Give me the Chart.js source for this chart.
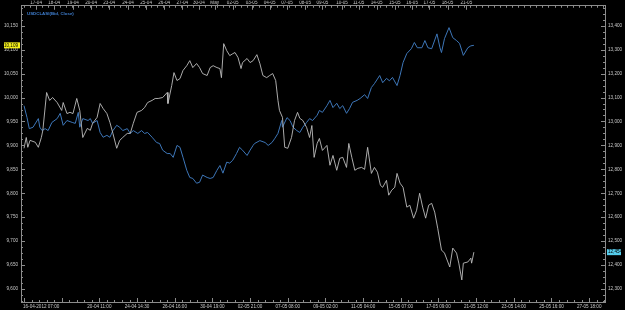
<!DOCTYPE html>
<html>
<head>
<meta charset="utf-8">
<script src="https://cdn.jsdelivr.net/npm/chart.js@4/dist/chart.umd.min.js"></script>
<style>
  html, body { margin: 0; padding: 0; background: #000; }
  canvas { display: block; }
</style>
</head>
<body>
<canvas id="chart" width="625" height="310"></canvas>
<script>
// bar index = hourly bar counted from 16-04-2012 07:00
const dayBars = [16, 40, 65, 89, 113, 138, 162, 186, 210, 232, 253, 277, 302, 326, 349, 373, 396, 422, 444, 468, 492, 515, 538, 562, 587];
const dayLabels = ["17-04", "18-04", "19-04", "20-04", "23-04", "24-04", "25-04", "26-04", "27-04", "30-04", "May",
    "02-05", "03-05", "04-05", "07-05", "08-05", "09-05", "10-05", "11-05", "14-05", "15-05", "16-05", "17-05", "18-05", "21-05"];
const timeBars = [0, 50, 100, 150, 200, 250, 300, 350, 400, 450, 500, 550, 600, 650, 700, 750];
const timeLabels = ["16-04-2012 07:00", "", "20-04 11:00", "24-04 14:30", "26-04 16:00", "30-04 19:00", "02-05 21:00",
    "07-05 08:00", "09-05 02:00", "11-05 04:00", "15-05 07:00", "17-05 09:00", "21-05 12:00", "23-05 14:00",
    "25-05 16:00", "27-05 18:00"];
const leftTicks = [9.60, 9.65, 9.70, 9.75, 9.80, 9.85, 9.90, 9.95, 10.00, 10.05, 10.10, 10.15];
const rightTicks = [12.3, 12.4, 12.5, 12.6, 12.7, 12.8, 12.9, 13.0, 13.1, 13.2, 13.3, 13.4];

const seriesName = "USDCLASI(Bid, Close)";

const blueBars = [0, 4, 7, 12, 19, 21, 24, 28, 32, 37, 44, 48, 52, 57, 64, 68, 72, 74, 78, 85, 88, 91, 97, 101, 105, 110,
    114, 118, 123, 127, 131, 137, 141, 145, 151, 156, 160, 164, 170, 176, 180, 184, 190, 194, 198, 203, 207, 211, 216, 220,
    224, 229, 233, 237, 243, 247, 251, 256, 260, 264, 269, 273, 277, 282, 286, 290, 296, 300, 304, 306, 313, 320, 324, 329,
    333, 337, 342, 343, 349, 353, 357, 362, 366, 370, 375, 379, 383, 389, 392, 396, 402, 406, 410, 415, 419, 423, 428, 432,
    436, 442, 446, 452, 456, 461, 465, 472, 476, 481, 485, 489, 495, 499, 503, 508, 514, 518, 522, 528, 532, 536, 541, 548,
    552, 554, 558, 564, 569, 574, 578, 583, 589, 593, 597];
const blueValues = [9.983, 9.958, 9.935, 9.938, 9.956, 9.938, 9.931, 9.935, 9.931, 9.948, 9.956, 9.967, 9.942, 9.952, 9.948,
    9.946, 9.969, 9.938, 9.956, 9.952, 9.956, 9.946, 9.952, 9.927, 9.917, 9.921, 9.917, 9.931, 9.942, 9.938, 9.931, 9.935,
    9.925, 9.931, 9.925, 9.931, 9.925, 9.927, 9.917, 9.906, 9.904, 9.890, 9.883, 9.883, 9.875, 9.900, 9.896, 9.875, 9.848,
    9.833, 9.831, 9.821, 9.823, 9.838, 9.833, 9.831, 9.833, 9.848, 9.858, 9.842, 9.865, 9.863, 9.869, 9.883, 9.896, 9.890,
    9.879, 9.890, 9.900, 9.904, 9.910, 9.906, 9.900, 9.906, 9.915, 9.925, 9.952, 9.938, 9.958, 9.952, 9.938, 9.931, 9.927,
    9.938, 9.948, 9.956, 9.952, 9.963, 9.973, 9.969, 9.983, 9.994, 9.979, 9.988, 9.977, 9.983, 9.967, 9.977, 9.990, 9.994,
    9.998, 10.006, 9.998, 10.021, 10.029, 10.046, 10.031, 10.040, 10.035, 10.042, 10.025, 10.046, 10.073, 10.092, 10.102,
    10.115, 10.104, 10.104, 10.119, 10.104, 10.102, 10.133, 10.104, 10.094, 10.123, 10.146, 10.125, 10.119, 10.113, 10.088,
    10.104, 10.108, 10.109];

const whiteBars = [0, 3, 5, 8, 15, 19, 23, 25, 30, 34, 38, 44, 50, 52, 57, 61, 65, 70, 74, 78, 84, 88, 91, 97, 101, 105, 110,
    114, 118, 123, 127, 131, 137, 141, 145, 150, 156, 160, 164, 170, 174, 178, 184, 190, 191, 196, 199, 203, 207, 211, 216,
    220, 224, 229, 233, 237, 243, 247, 251, 256, 260, 262, 265, 269, 273, 277, 280, 284, 288, 290, 296, 300, 304, 309, 313,
    317, 322, 326, 330, 334, 337, 339, 343, 346, 350, 355, 359, 363, 366, 370, 375, 379, 382, 385, 389, 392, 396, 402, 406,
    410, 415, 419, 423, 428, 431, 435, 439, 443, 448, 452, 456, 461, 465, 469, 473, 476, 481, 484, 488, 492, 495, 499, 503,
    508, 512, 517, 521, 525, 529, 533, 537, 541, 545, 549, 554, 558, 565, 569, 574, 577, 581, 583, 589, 593, 594, 597];
const whiteValues = [12.888, 12.933, 12.892, 12.921, 12.913, 12.892, 12.933, 12.963, 13.121, 13.088, 13.100, 13.079, 13.046,
    13.079, 13.033, 13.038, 13.033, 13.096, 13.046, 12.933, 12.971, 12.963, 12.992, 13.017, 13.075, 13.054, 13.033, 12.996,
    12.950, 12.888, 12.921, 12.933, 12.950, 12.950, 12.992, 13.038, 13.046, 13.058, 13.079, 13.088, 13.096, 13.096, 13.100,
    13.121, 13.075, 13.150, 13.204, 13.171, 13.179, 13.213, 13.233, 13.254, 13.225, 13.242, 13.225, 13.200, 13.192, 13.225,
    13.233, 13.225, 13.221, 13.183, 13.325, 13.296, 13.275, 13.283, 13.288, 13.267, 13.221, 13.246, 13.263, 13.246, 13.254,
    13.279, 13.242, 13.192, 13.183, 13.192, 13.200, 13.171, 13.088, 13.046, 13.017, 12.892, 12.888, 12.933, 13.004, 13.038,
    13.013, 13.004, 12.975, 12.933, 12.983, 12.850, 12.908, 12.929, 12.879, 12.900, 12.817, 12.858, 12.796, 12.846, 12.850,
    12.808, 12.908, 12.850, 12.796, 12.804, 12.808, 12.800, 12.892, 12.783, 12.808, 12.788, 12.733, 12.725, 12.754, 12.692,
    12.713, 12.725, 12.783, 12.742, 12.725, 12.642, 12.650, 12.596, 12.629, 12.700, 12.642, 12.596, 12.650, 12.658, 12.621,
    12.554, 12.463, 12.450, 12.392, 12.471, 12.450, 12.408, 12.338, 12.408, 12.413, 12.429, 12.408, 12.454];

const axisColor = "#8c8c8c";
const labelColor = "#c8c8c8";
const blueColor = "#3d76b8";
const whiteColor = "#bdbdbd";
const tickFont = { family: "Liberation Sans", size: 4.6 };

function fmt(v) {
    return v.toFixed(3).replace(".", ",");
}

const decor = {
    id: "decor",
    afterDraw(chart) {
        const ctx = chart.ctx;
        const a = chart.chartArea;
        const s = chart.scales;
        ctx.save();
        ctx.strokeStyle = axisColor;
        ctx.lineWidth = 1;
        ctx.beginPath();
        // inward ticks, horizontal axes
        for (let b = 0; b <= 770; b += 10) {
            const px = Math.round(s.x.getPixelForValue(b)) + 0.5;
            const len = b % 50 === 0 ? 4 : 2;
            ctx.moveTo(px, a.bottom);
            ctx.lineTo(px, a.bottom - len);
        }
        for (let b = 0; b <= 770; b += 8) {
            const px = Math.round(s.xTop.getPixelForValue(b)) + 0.5;
            ctx.moveTo(px, a.top);
            ctx.lineTo(px, a.top + 2);
        }
        dayBars.forEach(b => {
            const px = Math.round(s.xTop.getPixelForValue(b)) + 0.5;
            ctx.moveTo(px, a.top);
            ctx.lineTo(px, a.top + 4);
        });
        // inward ticks, vertical axes
        for (let v = 9.575; v <= 10.19; v += 0.0125) {
            const py = Math.round(s.y.getPixelForValue(v)) + 0.5;
            ctx.moveTo(a.left, py);
            ctx.lineTo(a.left + 2, py);
        }
        leftTicks.forEach(v => {
            const py = Math.round(s.y.getPixelForValue(v)) + 0.5;
            ctx.moveTo(a.left, py);
            ctx.lineTo(a.left + 4, py);
        });
        for (let v = 12.25; v <= 13.48; v += 0.025) {
            const py = Math.round(s.y2.getPixelForValue(v)) + 0.5;
            ctx.moveTo(a.right, py);
            ctx.lineTo(a.right - 2, py);
        }
        rightTicks.forEach(v => {
            const py = Math.round(s.y2.getPixelForValue(v)) + 0.5;
            ctx.moveTo(a.right, py);
            ctx.lineTo(a.right - 4, py);
        });
        ctx.stroke();

        ctx.font = "4.6px 'Liberation Sans'";
        ctx.textBaseline = "middle";
        // first bottom label starts at its tick
        ctx.fillStyle = labelColor;
        ctx.textAlign = "left";
        ctx.fillText(timeLabels[0], s.x.getPixelForValue(timeBars[0]) - 1, a.bottom + 4.5);

        // series title
        ctx.font = "bold 4.4px 'Liberation Sans'";
        ctx.fillStyle = "#3f7fd0";
        ctx.fillText(seriesName, a.left + 6, a.top + 8);

        // last value boxes
        ctx.font = "4.6px 'Liberation Sans'";
        const lastBlue = blueValues[blueValues.length - 1];
        const yb = s.y.getPixelForValue(lastBlue);
        ctx.fillStyle = "#f4f01c";
        ctx.fillRect(a.left - 17, yb - 3, 16, 6);
        ctx.fillStyle = "#000";
        ctx.textAlign = "right";
        ctx.fillText(fmt(lastBlue), a.left - 3, yb);

        const lastWhite = whiteValues[whiteValues.length - 1];
        const yw = s.y2.getPixelForValue(lastWhite);
        ctx.fillStyle = "#56cdec";
        ctx.fillRect(a.right + 2, yw - 3, 14, 6);
        ctx.fillStyle = "#000";
        ctx.textAlign = "left";
        ctx.fillText(fmt(lastWhite), a.right + 3, yw);
        ctx.restore();
    }
};

function axisBase() {
    return {
        grid: { display: true, drawOnChartArea: false, drawTicks: false, color: axisColor },
        border: { display: true, color: axisColor, width: 1 },
    };
}

const ctx = document.getElementById("chart").getContext("2d");
new Chart(ctx, {
    type: "line",
    data: {
        datasets: [{
            label: "white",
            data: whiteBars.map((b, i) => ({ x: b, y: whiteValues[i] })),
            borderColor: whiteColor,
            borderWidth: 0.9,
            pointRadius: 0,
            tension: 0,
            yAxisID: "y2",
            xAxisID: "x"
        }, {
            label: seriesName,
            data: blueBars.map((b, i) => ({ x: b, y: blueValues[i] })),
            borderColor: blueColor,
            borderWidth: 1,
            pointRadius: 0,
            tension: 0,
            yAxisID: "y",
            xAxisID: "x"
        }]
    },
    options: {
        responsive: false,
        animation: false,
        devicePixelRatio: 1,
        layout: { padding: 0 },
        plugins: { legend: { display: false }, tooltip: { enabled: false } },
        scales: {
            x: Object.assign(axisBase(), {
                type: "linear", position: "bottom", min: -4, max: 771,
                afterBuildTicks: sc => { sc.ticks = timeBars.map(v => ({ value: v })); },
                afterFit: sc => { sc.height = 8; },
                ticks: {
                    autoSkip: false, maxRotation: 0, padding: 2, color: labelColor, font: tickFont,
                    callback: (v, i) => i === 0 ? "" : timeLabels[i]
                }
            }),
            xTop: Object.assign(axisBase(), {
                type: "linear", position: "top", min: -4, max: 771,
                afterBuildTicks: sc => { sc.ticks = dayBars.map(v => ({ value: v })); },
                afterFit: sc => { sc.height = 5; },
                ticks: {
                    autoSkip: false, maxRotation: 0, padding: 0, color: labelColor, font: tickFont,
                    callback: (v, i) => dayLabels[i]
                }
            }),
            y: Object.assign(axisBase(), {
                type: "linear", position: "left", min: 9.5729, max: 10.1917,
                afterBuildTicks: sc => { sc.ticks = leftTicks.map(v => ({ value: v })); },
                afterFit: sc => { sc.width = 21; },
                ticks: { autoSkip: false, padding: 3, color: labelColor, font: tickFont, callback: v => fmt(v) }
            }),
            y2: Object.assign(axisBase(), {
                type: "linear", position: "right", min: 12.2458, max: 13.4833,
                afterBuildTicks: sc => { sc.ticks = rightTicks.map(v => ({ value: v })); },
                afterFit: sc => { sc.width = 20; },
                ticks: { autoSkip: false, padding: 3, color: labelColor, font: tickFont, callback: v => fmt(v) }
            })
        }
    },
    plugins: [decor]
});
</script>
</body>
</html>
